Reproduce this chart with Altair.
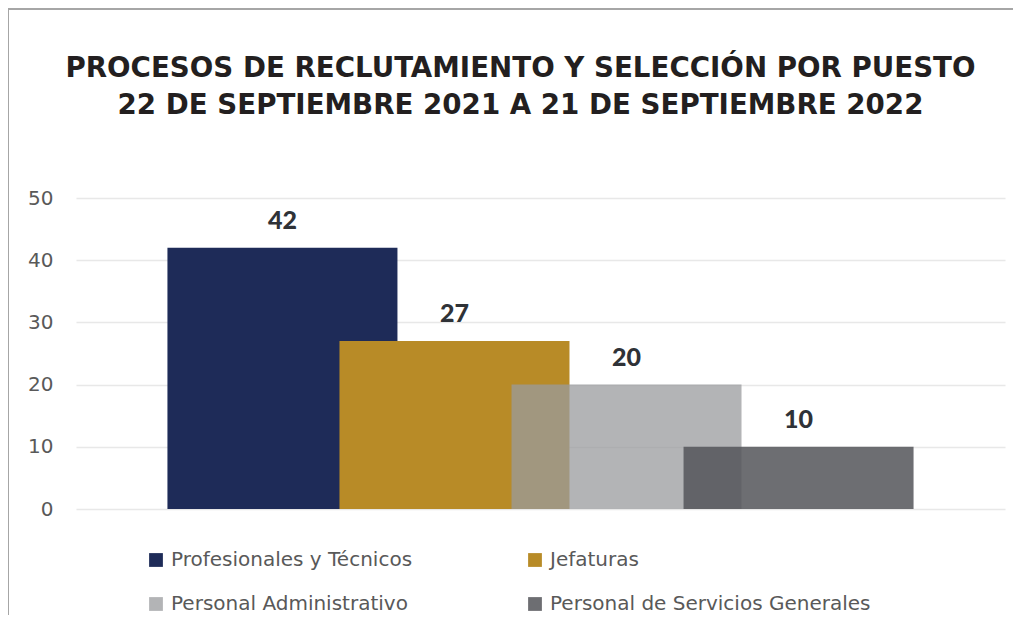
import altair as alt
import pandas as pd

categories = ["Profesionales y Técnicos", "Jefaturas", "Personal Administrativo",
              "Personal de Servicios Generales"]
values = [42, 27, 20, 10]
colors = ["#1E2B58", "#B88B27", "#9A9B9E", "#54555A"]
opacities = [1.0, 1.0, 0.75, 0.855]
legend_colors = ["#1E2B58", "#B88B27", "#B3B4B6", "#6D6E72"]
y_ticks = [0, 10, 20, 30, 40, 50]
title_lines = ["PROCESOS DE RECLUTAMIENTO Y SELECCIÓN POR PUESTO",
               "22 DE SEPTIEMBRE 2021 A 21 DE SEPTIEMBRE 2022"]

df = pd.DataFrame({"cat": categories, "value": values,
                   "idx": list(range(len(categories))), "op": opacities})

HALF = 0.6685
xscale = alt.Scale(domain=[-1.2, 4.2], nice=False, zero=False)
yscale = alt.Scale(domain=[0, 50], nice=False)

legend = alt.Legend(
    title=None, orient="none", legendX=70, legendY=352, columns=2, direction="horizontal",
    columnPadding=112, rowPadding=24, labelFontSize=20, labelColor="#595959",
    labelFont="DejaVu Sans", symbolType="square", symbolSize=190, symbolStrokeWidth=0,
    labelOffset=5, labelLimit=400,
)

base = alt.Chart(df).transform_calculate(
    x0=f"datum.idx - {HALF}", x1=f"datum.idx + {HALF}"
)

bars = base.mark_rect().encode(
    x=alt.X("x0:Q", scale=xscale, axis=None),
    x2="x1:Q",
    y=alt.Y("value:Q", scale=yscale, title=None,
            axis=alt.Axis(values=y_ticks, domain=False, ticks=False, labelPadding=23,
                          labelFontSize=20, labelColor="#595959", labelFont="DejaVu Sans",
                          grid=True, gridColor="#E8E8E8", gridWidth=1.5)),
    y2=alt.datum(0),
    color=alt.Color("cat:N", scale=alt.Scale(domain=categories, range=colors), legend=None),
    opacity=alt.Opacity("op:Q", scale=None, legend=None),
)

legend_layer = base.mark_rect().transform_filter("false").encode(
    color=alt.Color("cat:N", scale=alt.Scale(domain=categories, range=legend_colors),
                    legend=legend),
)

labels = base.mark_text(dy=-27, fontSize=25, fontWeight=900, font="Lato",
                        color="#2F3237", baseline="middle").encode(
    x=alt.X("idx:Q", scale=xscale, axis=None),
    y=alt.Y("value:Q", scale=yscale),
    text="value:Q",
)

frame_df = pd.DataFrame({"a": [0]})
top_line = alt.Chart(frame_df).mark_rule(color="#A6A6A6", strokeWidth=2).encode(
    x=alt.value(-68), x2=alt.value(937), y=alt.value(-189)
)
left_line = alt.Chart(frame_df).mark_rule(color="#A6A6A6", strokeWidth=2).encode(
    x=alt.value(-68), y=alt.value(-189), y2=alt.value(433)
)

chart = alt.layer(bars, legend_layer, labels, top_line, left_line).resolve_scale(
    color="independent"
).properties(
    width=929, height=311,
    padding={"left": 68, "top": 190, "right": 8, "bottom": 106},
    autosize=alt.AutoSizeParams(type="none"),
    title=alt.TitleParams(text=title_lines, fontSize=27.7, font="DejaVu Sans", fontWeight="bold",
                          color="#231F20", anchor="middle", frame="group", dx=-20,
                          offset=-112, lineHeight=37),
).configure_view(stroke=None)

chart.save("out.html", embed_options={"renderer": "svg", "actions": False})
